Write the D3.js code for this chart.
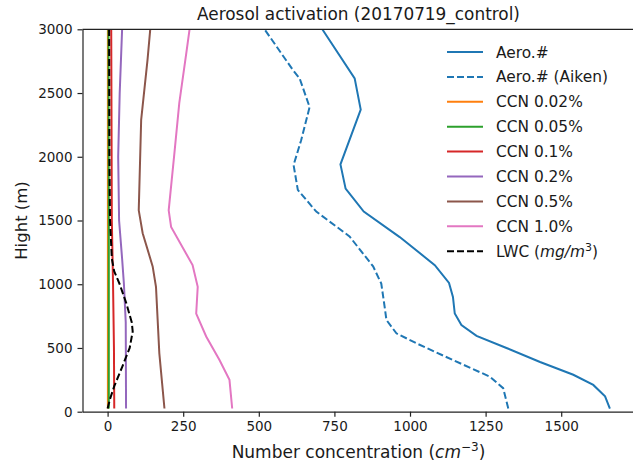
<!DOCTYPE html>
<html>
<head>
<meta charset="utf-8">
<script src="https://cdn.jsdelivr.net/npm/d3@7"></script>
<style>
  body { margin: 0; background: #fff; }
  svg text { font-family: "DejaVu Sans", sans-serif; fill: #1a1a1a; }
</style>
</head>
<body>
<svg id="chart" width="633" height="464"></svg>
<script>
// profiles: [height (m), value]
const aeroTotal = [[25,1661],[120,1645],[210,1606],[290,1540],[390,1430],[500,1319],[595,1220],[680,1170],[770,1148],[900,1142],[1010,1129],[1150,1082],[1370,966],[1570,847],[1750,787],[1940,770],[2370,837],[2615,817],[3000,710]];
const aeroAiken = [[25,1325],[185,1308],[275,1264],[405,1142],[537,1021],[615,955],[720,922],[825,916],[1005,905],[1140,878],[1375,800],[1570,690],[1740,629],[1935,615],[2130,640],[2390,668],[2615,635],[2680,613],[3000,519]];
const ccn002 = [[25,1],[1500,1],[3000,1]];
const ccn005 = [[25,4],[1500,4],[3000,3]];
const ccn01 = [[25,22],[500,21],[1000,18],[1500,14],[3000,12]];
const ccn02 = [[25,61],[700,60],[1000,54],[1200,48],[1500,38],[2000,35],[2500,40],[3000,48]];
const ccn05 = [[25,188],[460,171],[980,160],[1140,149],[1400,116],[1580,103],[2290,111],[2760,132],[3000,141]];
const ccn10 = [[25,412],[250,403],[405,370],[590,326],[770,293],[980,298],[1150,281],[1450,210],[1580,202],[2030,221],[2420,237],[2810,260],[3000,271]];
const lwc = [[25,0],[100,8],[200,22],[350,48],[500,73],[630,83],[700,80],[850,62],[1000,40],[1100,22],[1200,14],[1500,8],[2000,6],[3000,5]];

const xTicks = [0, 250, 500, 750, 1000, 1250, 1500];
const yTicks = [0, 500, 1000, 1500, 2000, 2500, 3000];

const series = [
  { name: "Aero.#", data: aeroTotal, color: "#1f77b4", dash: null },
  { name: "Aero.# (Aiken)", data: aeroAiken, color: "#1f77b4", dash: "7,3" },
  { name: "CCN 0.02%", data: ccn002, color: "#ff7f0e", dash: null },
  { name: "CCN 0.05%", data: ccn005, color: "#2ca02c", dash: null },
  { name: "CCN 0.1%", data: ccn01, color: "#d62728", dash: null },
  { name: "CCN 0.2%", data: ccn02, color: "#9467bd", dash: null },
  { name: "CCN 0.5%", data: ccn05, color: "#8c564b", dash: null },
  { name: "CCN 1.0%", data: ccn10, color: "#e377c2", dash: null },
  { name: "LWC", data: lwc, color: "#000000", dash: "7,3" }
];

const m = { left: 82.5, right: 634.7, top: 29.3, bottom: 411.7 };

const svg = d3.select("#chart");

const x = d3.scaleLinear().domain([-83, 1743]).range([m.left, m.right]);
const y = d3.scaleLinear().domain([0, 3000]).range([m.bottom, m.top]);

const line = d3.line()
  .x(d => x(d[1]))
  .y(d => y(d[0]));

svg.append("clipPath").attr("id", "clip")
  .append("rect").attr("x", m.left).attr("y", m.top)
  .attr("width", m.right - m.left).attr("height", m.bottom - m.top);

const lines = svg.append("g").attr("clip-path", "url(#clip)");
series.forEach(s => {
  lines.append("path")
    .datum(s.data)
    .attr("fill", "none")
    .attr("stroke", s.color)
    .attr("stroke-width", 2)
    .attr("stroke-dasharray", s.dash)
    .attr("d", line);
});

// axes
const fmt = d3.format("d");
const xAxis = svg.append("g")
  .attr("transform", `translate(0,${m.bottom})`)
  .call(d3.axisBottom(x).tickValues(xTicks).tickFormat(fmt).tickSize(5).tickPadding(5).tickSizeOuter(0));
const yAxis = svg.append("g")
  .attr("transform", `translate(${m.left},0)`)
  .call(d3.axisLeft(y).tickValues(yTicks).tickFormat(fmt).tickSize(5).tickPadding(5).tickSizeOuter(0));

[xAxis, yAxis].forEach(a => {
  a.select(".domain").attr("stroke", "#222").attr("stroke-width", 1.2);
  a.selectAll(".tick line").attr("stroke", "#222").attr("stroke-width", 1.2);
  a.selectAll(".tick text").style("font-size", "13.5px").attr("fill", "#1a1a1a");
});

// top and right spines
svg.append("line")
  .attr("x1", m.left).attr("x2", m.right).attr("y1", m.top).attr("y2", m.top)
  .attr("stroke", "#222").attr("stroke-width", 1.2);
svg.append("line")
  .attr("x1", m.right).attr("x2", m.right).attr("y1", m.top).attr("y2", m.bottom)
  .attr("stroke", "#222").attr("stroke-width", 1.2);

// title
svg.append("text")
  .attr("x", 358.5).attr("y", 20)
  .attr("text-anchor", "middle")
  .style("font-size", "16.9px")
  .text("Aerosol activation (20170719_control)");

// x label
const xl = svg.append("text")
  .attr("x", 358.5).attr("y", 458)
  .attr("text-anchor", "middle")
  .style("font-size", "17px");
xl.append("tspan").text("Number concentration (");
xl.append("tspan").style("font-style", "italic").text("cm");
xl.append("tspan").attr("dy", -7).style("font-size", "12px").text("\u22123");
xl.append("tspan").attr("dy", 7).text(")");

// y label
svg.append("text")
  .attr("transform", `translate(27,${(m.top + m.bottom) / 2}) rotate(-90)`)
  .attr("text-anchor", "middle")
  .style("font-size", "16.5px")
  .text("Hight (m)");

// legend
const legend = svg.append("g");
const lx0 = 447, lx1 = 483, ltx = 496, ly0 = 52, lstep = 24.9;
series.forEach((s, i) => {
  const yy = ly0 + i * lstep;
  legend.append("line")
    .attr("x1", lx0).attr("x2", lx1).attr("y1", yy).attr("y2", yy)
    .attr("stroke", s.color).attr("stroke-width", 2)
    .attr("stroke-dasharray", s.dash);
  const t = legend.append("text")
    .attr("x", ltx).attr("y", yy + 5.5)
    .style("font-size", "15.4px");
  if (s.name === "LWC") {
    t.append("tspan").text("LWC (");
    t.append("tspan").style("font-style", "italic").text("mg/m");
    t.append("tspan").attr("dy", -6).style("font-size", "11px").text("3");
    t.append("tspan").attr("dy", 6).text(")");
  } else {
    t.text(s.name);
  }
});
</script>
</body>
</html>
